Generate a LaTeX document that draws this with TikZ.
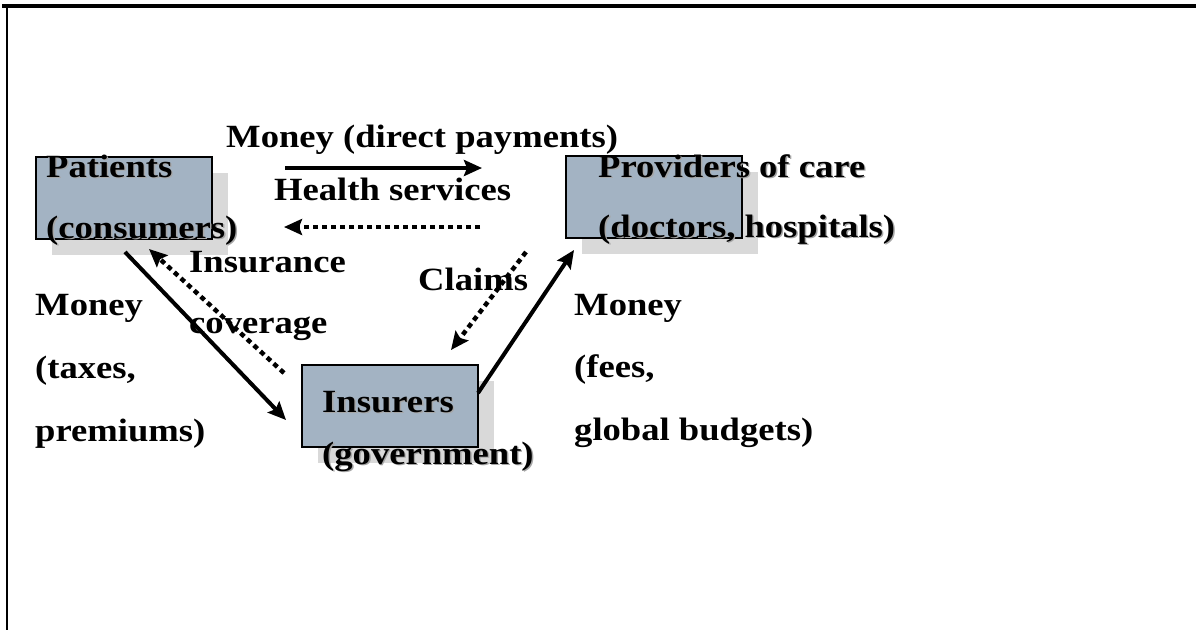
\documentclass[tikz,border=0pt]{standalone}
\usepackage{fontspec}
\setmainfont{Liberation Serif}[FakeStretch=1.13]
\usetikzlibrary{arrows.meta}

\definecolor{boxfill}{HTML}{A3B3C3}
\definecolor{boxshade}{HTML}{D9D9D9}
\definecolor{txtshade}{HTML}{A6A6A6}

% label with a soft drop shadow behind the letters
\newcommand{\shlabel}[3]{%
  \node[lbl, text=txtshade, xshift=1.4pt, yshift=-1.4pt] at (#2) {#3};
  \node[lbl] (#1) at (#2) {#3};}

\begin{document}
\begin{tikzpicture}[x=1pt, y=-1pt,
  lbl/.style={font=\fontsize{32.4}{38}\selectfont\bfseries, anchor=base west, inner sep=0pt},
  actor/.style={draw=black, line width=2.2pt, fill=boxfill, minimum width=176pt, minimum height=82pt, inner sep=0pt},
  shade/.style={fill=boxshade, draw=none, minimum width=176pt, minimum height=82pt, inner sep=0pt},
  flow/.style={line width=4pt, -{Stealth[length=18pt, width=16pt, inset=3pt]}},
  info/.style={line width=4.5pt, dash pattern=on 5pt off 4pt, -{Stealth[length=18pt, width=16pt, inset=3pt]}}]
\useasboundingbox (0,0) rectangle (1196,630);

% frame: heavy rule on top, thin rule on the left
\draw[line width=3.2pt] (2,6) -- (1196,6);
\draw[line width=2.2pt] (7,6) -- (7,630);

% box shadows
\node[shade] (patsh) at (140,214) {};
\node[shade] (provsh) at (670,213) {};
\node[shade] (inssh) at (406,422) {};

% the three parties
\node[actor] (pat) at (124,198) {};
\node[actor] (prov) at (654,197) {};
\node[actor] (ins) at (390,406) {};

% connector end points
\coordinate (pm1) at (285,168);
\coordinate (pm2) at (482,168);
\coordinate (hs1) at (480,227);
\coordinate (hs2) at (284,227);
\coordinate (tx1) at (125,252);
\coordinate (tx2) at (286,420);
\coordinate (ic1) at (284,373);
\coordinate (ic2) at (149,249);
\coordinate (cl1) at (526,252);
\coordinate (cl2) at (451,350);
\coordinate (fe1) at (478,393);
\coordinate (fe2) at (574,250);

% money flows (solid) and services / paperwork (dotted)
\draw[flow] (pm1) -- (pm2);
\draw[info] (hs1) -- (hs2);
\draw[flow] (tx1) -- (tx2);
\draw[info] (ic1) -- (ic2);
\draw[info] (cl1) -- (cl2);
\draw[flow] (fe1) -- (fe2);

% party names
\shlabel{patA}{46,177}{Patients}
\shlabel{patB}{46,238}{(consumers)}
\shlabel{provA}{598,177}{Providers of care}
\shlabel{provB}{598,237}{(doctors, hospitals)}
\shlabel{insA}{322,412}{Insurers}
\shlabel{insB}{322,464}{(government)}

% flow labels
\node[lbl] (direct) at (226,147) {Money (direct payments)};
\node[lbl] (health) at (274,200) {Health services};
\node[lbl] (insur) at (189,272) {Insurance};
\node[lbl] (cover) at (189,333) {coverage};
\node[lbl] (claims) at (418,290) {Claims};
\node[lbl] (lmA) at (35,315) {Money};
\node[lbl] (lmB) at (35,378) {(taxes,};
\node[lbl] (lmC) at (35,441) {premiums)};
\node[lbl] (rmA) at (574,315) {Money};
\node[lbl] (rmB) at (574,377) {(fees,};
\node[lbl] (rmC) at (574,440) {global budgets)};
\end{tikzpicture}
\end{document}
